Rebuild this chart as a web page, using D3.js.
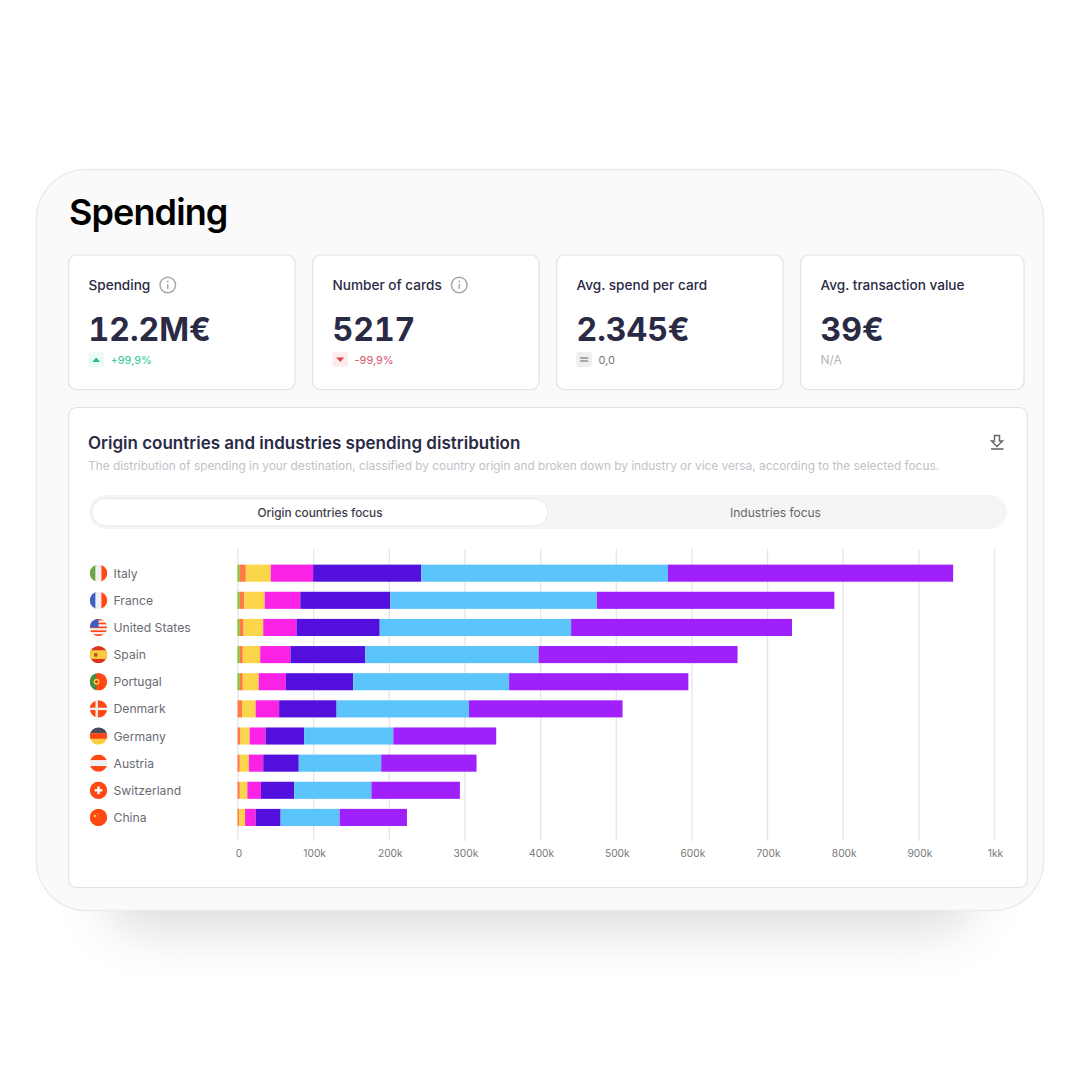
<!DOCTYPE html>
<html>
<head>
<meta charset="utf-8">
<script src="https://cdn.jsdelivr.net/npm/d3@7"></script>
<style>
  html, body { margin: 0; padding: 0; background: #fff; }
  svg { display: block; }
  text { font-family: Inter, "Noto Sans", sans-serif; }
  .kpi-value { font-variant-numeric: tabular-nums; }
</style>
</head>
<body>
<script>
const countries = ["Italy", "France", "United States", "Spain", "Portugal", "Denmark", "Germany", "Austria", "Switzerland", "China"];
// the reference has no legend, the industries are only known by colour
const segments = ["green", "orange", "yellow", "pink", "indigo", "blue", "purple"];
const segmentColors = ["#86c232", "#ff7a45", "#fbd54a", "#fa23e5", "#5310dd", "#5ac4fb", "#a020fb"];
// thousands of euro
const green  = [3, 3, 3, 3, 3, 0, 0, 0, 0, 0];
const orange = [8, 6, 5, 4, 4, 6, 4, 3, 3, 2];
const yellow = [33, 27, 26, 23, 21, 18, 12, 12, 10, 8];
const pink   = [56, 47, 44, 40, 36, 31, 21, 19, 18, 14];
const indigo = [143, 119, 110, 99, 89, 76, 51, 47, 44, 33];
const blue   = [326, 273, 253, 229, 206, 175, 118, 109, 102, 78];
const purple = [377, 314, 292, 263, 237, 203, 136, 126, 117, 89];
const xTicks = [0, 100, 200, 300, 400, 500, 600, 700, 800, 900, 1000];

const kpiTitles = ["Spending", "Number of cards", "Avg. spend per card", "Avg. transaction value"];
const kpiValues = ["12.2M€", "5217", "2.345€", "39€"];
const kpiDeltas = ["+99,9%", "-99,9%", "0,0", "N/A"];
const kpiKinds = ["up", "down", "same", "none"];
const kpiInfo = [true, true, false, false];
const kpiLeft = [68.5, 312.5, 556.5, 800.5];
const kpiWidth = [226.5, 226.5, 226.5, 223.5];

const dark = "#2a2a45";
const svg = d3.select("body").append("svg").attr("width", 1080).attr("height", 1080);
const defs = svg.append("defs");

//Shadow under the big card
const blur = defs.append("filter").attr("id", "soft").attr("x", "-20%").attr("y", "-50%").attr("width", "140%").attr("height", "200%");
blur.append("feGaussianBlur").attr("stdDeviation", 26);
svg.append("rect").attr("x", 105).attr("y", 800).attr("width", 870).attr("height", 130)
   .attr("rx", 40).attr("fill", "#dcdcdc").attr("filter", "url(#soft)");

//Big card
svg.append("rect").attr("x", 36.5).attr("y", 169.5).attr("width", 1007).attr("height", 741)
   .attr("rx", 50).attr("fill", "#fafafa").attr("stroke", "#ececee").attr("stroke-width", 1.5);
svg.append("text").attr("x", 69).attr("y", 225).attr("font-size", 36).attr("font-weight", 600)
   .attr("letter-spacing", -0.9).attr("fill", "#000").text("Spending");

function panel(x, y, w, h) {
  svg.append("rect").attr("x", x).attr("y", y).attr("width", w).attr("height", h)
     .attr("rx", 8).attr("fill", "#fff").attr("stroke", "#e2e2e5").attr("stroke-width", 1.2);
}

//KPI cards
kpiTitles.forEach((title, i) => {
  const left = kpiLeft[i], tx = left + 20;
  panel(left, 255, kpiWidth[i], 134.5);
  const label = svg.append("text").attr("x", tx).attr("y", 290).attr("font-size", 13.6)
     .attr("font-weight", 500).attr("fill", dark).text(title);
  if (kpiInfo[i]) {
    const cx = tx + label.node().getComputedTextLength() + 17.5;
    svg.append("circle").attr("cx", cx).attr("cy", 285).attr("r", 7.8).attr("fill", "none")
       .attr("stroke", "#a8a8a8").attr("stroke-width", 1.5);
    svg.append("line").attr("x1", cx).attr("x2", cx).attr("y1", 284).attr("y2", 289)
       .attr("stroke", "#a8a8a8").attr("stroke-width", 1.4);
    svg.append("circle").attr("cx", cx).attr("cy", 281.5).attr("r", 0.9).attr("fill", "#a8a8a8");
  }
  svg.append("text").attr("class", "kpi-value").attr("x", tx).attr("y", 341).attr("font-size", 32)
     .attr("font-weight", 700).attr("fill", dark).text(kpiValues[i]);

  const kind = kpiKinds[i];
  const deltaColor = {up: "#35c795", down: "#d9566e", same: "#777", none: "#b5b5b5"}[kind];
  const badge = {up: "#eafaf4", down: "#fdeced", same: "#eeeeee"}[kind];
  if (kind != "none") {
    svg.append("rect").attr("x", tx).attr("y", 352).attr("width", 15.5).attr("height", 15)
       .attr("rx", 3).attr("fill", badge);
  }
  const bx = tx + 7.7;
  if (kind == "up") svg.append("path").attr("d", `M${bx - 4},362 L${bx},357.5 L${bx + 4},362 Z`).attr("fill", "#2dbb8b");
  if (kind == "down") svg.append("path").attr("d", `M${bx - 4},357.5 L${bx},362 L${bx + 4},357.5 Z`).attr("fill", "#e0453f");
  if (kind == "same") {
    [358, 361].forEach(y => svg.append("line").attr("x1", bx - 4).attr("x2", bx + 4).attr("y1", y).attr("y2", y)
       .attr("stroke", "#777").attr("stroke-width", 1.2));
  }
  svg.append("text").attr("x", kind == "none" ? tx : tx + 22).attr("y", 363.5)
     .attr("font-size", kind == "none" ? 12 : 11).attr("fill", deltaColor).text(kpiDeltas[i]);
});

//Chart panel
panel(68.5, 407.5, 959, 480);
svg.append("text").attr("x", 88).attr("y", 448.5).attr("font-size", 17).attr("font-weight", 600)
   .attr("fill", dark).text("Origin countries and industries spending distribution");
svg.append("text").attr("x", 88).attr("y", 470).attr("font-size", 11.85).attr("fill", "#c2c2c6")
   .text("The distribution of spending in your destination, classified by country origin and broken down by industry or vice versa, according to the selected focus.");

//Download icon
svg.append("path").attr("d", "M994.5,435.5 H999.5 V441 H1002.5 L997,446.5 L991.5,441 H994.5 Z")
   .attr("fill", "none").attr("stroke", "#66666e").attr("stroke-width", 1.5);
svg.append("line").attr("x1", 991).attr("x2", 1003.5).attr("y1", 449).attr("y2", 449)
   .attr("stroke", "#66666e").attr("stroke-width", 1.6);

//Focus toggle
svg.append("rect").attr("x", 89).attr("y", 495).attr("width", 918).attr("height", 34).attr("rx", 17).attr("fill", "#f5f5f5");
svg.append("rect").attr("x", 92).attr("y", 498.5).attr("width", 456).attr("height", 27.5).attr("rx", 13.7)
   .attr("fill", "#fff").attr("stroke", "#e8e8e8");
svg.append("text").attr("x", 320).attr("y", 516.5).attr("text-anchor", "middle").attr("font-size", 11.8)
   .attr("font-weight", 500).attr("fill", "#3c3c4a").text("Origin countries focus");
svg.append("text").attr("x", 775.5).attr("y", 516.5).attr("text-anchor", "middle").attr("font-size", 12)
   .attr("fill", "#666").text("Industries focus");

//Scales
const x = d3.scaleLinear().domain([0, 1000]).range([237.5, 994]);
const y = d3.scaleBand().domain(countries).range([559.6, 831]).paddingInner(0.37).paddingOuter(0.185);

//Axis and vertical grid
const xAxis = d3.axisBottom(x).tickValues(xTicks).tickSize(-292).tickPadding(9)
   .tickFormat(d => d == 0 ? "0" : d == 1000 ? "1kk" : d + "k");
const axisGroup = svg.append("g").attr("transform", "translate(0,841)").call(xAxis);
axisGroup.select(".domain").remove();
axisGroup.selectAll("line").attr("stroke", "#e5e5e5").attr("stroke-width", 1.3);
axisGroup.selectAll("text").attr("dx", 1).attr("font-size", 10.2).attr("fill", "#777")
   .style("font-family", "Inter");

//Stacked bars
const values = [green, orange, yellow, pink, indigo, blue, purple];
const table = countries.map((c, i) => {
  const row = {country: c};
  segments.forEach((s, j) => { row[s] = values[j][i]; });
  return row;
});
const stacked = d3.stack().keys(segments)(table);
const color = d3.scaleOrdinal().domain(segments).range(segmentColors);
svg.append("g").selectAll("g").data(stacked).enter().append("g")
   .attr("fill", d => color(d.key))
   .selectAll("rect").data(d => d).enter().append("rect")
   .attr("x", d => x(d[0]))
   .attr("y", d => y(d.data.country))
   .attr("width", d => x(d[1]) - x(d[0]))
   .attr("height", y.bandwidth());

//Country labels
svg.append("g").selectAll("text").data(countries).enter().append("text")
   .attr("x", 113.5)
   .attr("y", d => y(d) + y.bandwidth() / 2 + 4.5)
   .attr("font-size", 12.2).attr("fill", "#6a6a74")
   .text(d => d);

//Flags, all drawn in a 17px box around the row centre
const R = 8.7, red = "#ff4714", white = "#f0f0f0";
const bands = (g, cols, horizontal) => cols.forEach((col, i) => {
  const n = cols.length, s = 2 * R / n;
  g.append("rect").attr("x", horizontal ? -R : -R + i * s).attr("y", horizontal ? -R + i * s : -R)
   .attr("width", horizontal ? 2 * R : s).attr("height", horizontal ? s : 2 * R).attr("fill", col);
});
const fill = (g, col) => g.append("rect").attr("x", -R).attr("y", -R).attr("width", 2 * R).attr("height", 2 * R).attr("fill", col);
const flags = {
  "Italy": g => bands(g, ["#6da544", white, red], false),
  "France": g => bands(g, ["#3f5bc4", white, red], false),
  "United States": g => {
    bands(g, [red, white, red, white, red, white, red, white, red], true);
    g.append("rect").attr("x", -R).attr("y", -R).attr("width", R).attr("height", R).attr("fill", "#3f5bc4");
  },
  "Spain": g => {
    fill(g, "#d8351c");
    g.append("rect").attr("x", -R).attr("y", -4.3).attr("width", 2 * R).attr("height", 8.6).attr("fill", "#fbcd3c");
    g.append("rect").attr("x", -4.5).attr("y", -1.5).attr("width", 3.5).attr("height", 3.5).attr("fill", "#b5572a");
  },
  "Portugal": g => {
    fill(g, red);
    g.append("rect").attr("x", -R).attr("y", -R).attr("width", 6.5).attr("height", 2 * R).attr("fill", "#3f8f4a");
    g.append("circle").attr("cx", -2).attr("r", 3).attr("fill", "#fbcd3c");
    g.append("circle").attr("cx", -2).attr("r", 1.5).attr("fill", "#d8351c");
  },
  "Denmark": g => {
    fill(g, red);
    g.append("rect").attr("x", -R).attr("y", -1.2).attr("width", 2 * R).attr("height", 2.4).attr("fill", white);
    g.append("rect").attr("x", -3).attr("y", -R).attr("width", 2.4).attr("height", 2 * R).attr("fill", white);
  },
  "Germany": g => bands(g, ["#4a4d59", red, "#fbcd3c"], true),
  "Austria": g => bands(g, [red, white, red], true),
  "Switzerland": g => {
    fill(g, red);
    g.append("rect").attr("x", -3.8).attr("y", -1.2).attr("width", 7.6).attr("height", 2.4).attr("fill", "#fff");
    g.append("rect").attr("x", -1.2).attr("y", -3.8).attr("width", 2.4).attr("height", 7.6).attr("fill", "#fff");
  },
  "China": g => {
    fill(g, red);
    [[-3.5, -1.5, 1.3], [-0.8, -3.5, 0.5], [0.2, -1.5, 0.5], [-0.8, 0.8, 0.5]].forEach(s =>
      g.append("circle").attr("cx", s[0]).attr("cy", s[1]).attr("r", s[2]).attr("fill", "#fbcd3c"));
  }
};
defs.append("clipPath").attr("id", "flagClip").append("circle").attr("r", R);
countries.forEach(c => {
  const g = svg.append("g")
     .attr("transform", `translate(98.5,${y(c) + y.bandwidth() / 2})`)
     .attr("clip-path", "url(#flagClip)");
  flags[c](g);
});
</script>
</body>
</html>
